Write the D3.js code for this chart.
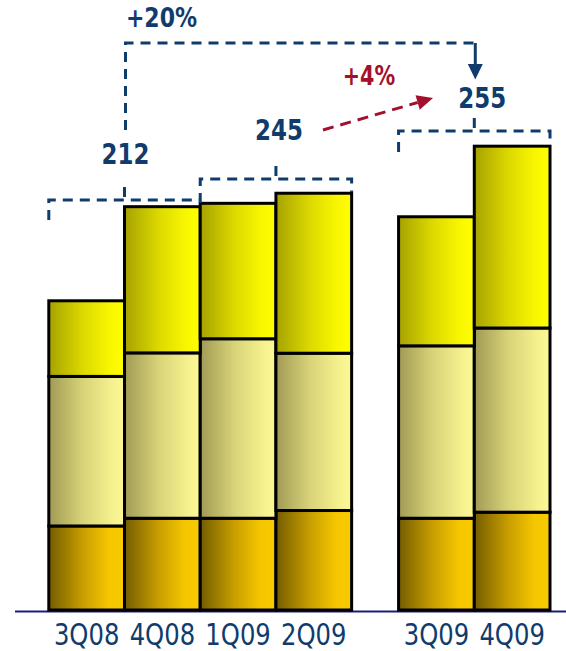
<!DOCTYPE html>
<html>
<head>
<meta charset="utf-8">
<script src="https://cdn.jsdelivr.net/npm/d3@7"></script>
<style>
  html, body { margin: 0; padding: 0; background: #fff; }
  svg { display: block; }
  text { font-family: "DejaVu Sans Condensed", "DejaVu Sans", sans-serif; font-stretch: condensed; }
</style>
</head>
<body>
<svg id="chart" width="566" height="651"></svg>
<script>
// Quarters and the three stacked components of each bar
const quarters = ["3Q08", "4Q08", "1Q09", "2Q09", "3Q09", "4Q09"];
const bottomPart = [25.0, 27.3, 27.3, 29.6, 27.3, 29.1];
const middlePart = [44.5, 49.2, 53.4, 46.8, 51.3, 54.8];
const topPart    = [22.5, 43.5, 40.3, 47.6, 38.4, 54.1];

// Half-year totals shown above each pair of bars
const halfYearLabels = ["212", "245", "255"];
const halfYearPairs = [[0, 1], [2, 3], [4, 5]];
const growthLabels = ["+20%", "+4%"];

const W = 566, H = 651;
const svg = d3.select("#chart");
const blue = "#0f3c6c";
const red = "#a3102c";

// x position: bars sit side by side, with an extra gap before the second group
const gapAfter = 3, gapSize = 0.62;
const slot = quarters.map((q, i) => i + (i > gapAfter ? gapSize : 0));
const x = d3.scaleLinear().domain([0, quarters.length + gapSize]).range([48.8, 550]);
const bw = x(1) - x(0);

const y = d3.scaleLinear().domain([0, 140]).range([610, 610 - 140 * 3.361]);

// gradients for the three components
const defs = svg.append("defs");
const gradients = [
  { id: "gBottom", stops: [["0%", "#735c00"], ["45%", "#c89e00"], ["80%", "#f6c700"], ["100%", "#f8ca00"]] },
  { id: "gMiddle", stops: [["0%", "#a09a55"], ["45%", "#d8d378"], ["85%", "#f6f28f"], ["100%", "#fbf895"]] },
  { id: "gTop",    stops: [["0%", "#a6a200"], ["45%", "#dcd900"], ["80%", "#f8f600"], ["100%", "#ffff00"]] }
];
gradients.forEach(g => {
  const lg = defs.append("linearGradient").attr("id", g.id)
    .attr("x1", "0%").attr("x2", "100%").attr("y1", "0%").attr("y2", "0%");
  g.stops.forEach(s => lg.append("stop").attr("offset", s[0]).attr("stop-color", s[1]));
});

// stacked data
const rows = quarters.map((q, i) => ({ q, i, bottom: bottomPart[i], middle: middlePart[i], top: topPart[i] }));
const keys = ["bottom", "middle", "top"];
const fills = { bottom: "url(#gBottom)", middle: "url(#gMiddle)", top: "url(#gTop)" };
const stacked = d3.stack().keys(keys)(rows);

// axis base line
svg.append("line")
  .attr("x1", 15).attr("x2", W).attr("y1", 611.5).attr("y2", 611.5)
  .attr("stroke", "#1c1c7a").attr("stroke-width", 2);

const bars = svg.append("g");
stacked.forEach(layer => {
  bars.selectAll(null).data(layer).join("rect")
    .attr("x", d => x(slot[d.data.i]))
    .attr("width", bw)
    .attr("y", d => y(d[1]))
    .attr("height", d => y(d[0]) - y(d[1]))
    .attr("fill", fills[layer.key])
    .attr("stroke", "#000")
    .attr("stroke-width", 3);
});

// quarter labels
const vScale = 1.1;
svg.append("g").selectAll("text").data(quarters).join("text")
  .attr("transform", (d, i) => `translate(${x(slot[i]) + bw / 2},644.5) scale(1,${vScale})`)
  .attr("text-anchor", "middle")
  .attr("font-size", 27)
  .attr("fill", blue)
  .text(d => d);

// annotation layer
const ann = svg.append("g").attr("fill", "none").attr("stroke", blue)
  .attr("stroke-width", 3).attr("stroke-dasharray", "10,7");

const bracketLevel = [200, 179, 131];
const leftDrop = [20, 24, 21];
const rightDrop = [0, 13, 14];
const labelBase = [164, 140, 108];
const labelShift = [1, 3, 8];

halfYearPairs.forEach((p, k) => {
  const xl = x(slot[p[0]]), xr = x(slot[p[1]]) + bw, xm = x(slot[p[1]]);
  const yl = bracketLevel[k];
  const path = d3.path();
  path.moveTo(xl, yl + leftDrop[k]);
  path.lineTo(xl, yl);
  path.lineTo(xr, yl);
  if (rightDrop[k]) path.lineTo(xr, yl + rightDrop[k]);
  ann.append("path").attr("d", path.toString());
  // centre tick
  ann.append("line").attr("x1", xm).attr("x2", xm)
    .attr("y1", yl - 3).attr("y2", yl - 18)
    .attr("stroke-dasharray", null);
  svg.append("text")
    .attr("transform", `translate(${xm + labelShift[k]},${labelBase[k]}) scale(1,1.12)`)
    .attr("text-anchor", "middle")
    .attr("font-size", 25.5).attr("font-weight", "bold")
    .attr("fill", blue)
    .text(halfYearLabels[k]);
});

// +20% connector: from the first pair up, across, and down onto the last pair
const x0 = x(slot[1]) + 1, x1 = x(slot[5]) + 1;
const topY = 43;
ann.append("path").attr("d", `M${x0},130 L${x0},${topY} L${x1},${topY}`);
svg.append("line").attr("x1", x1).attr("x2", x1).attr("y1", topY).attr("y2", 65)
  .attr("stroke", blue).attr("stroke-width", 3);
svg.append("path").attr("d", `M${x1 - 7.5},64 L${x1 + 7.5},64 L${x1},79.5 Z`).attr("fill", blue);
svg.append("text")
  .attr("transform", `translate(${x0 + 36},26.5) scale(1,1.12)`)
  .attr("text-anchor", "middle")
  .attr("font-size", 24.5).attr("font-weight", "bold")
  .attr("fill", blue)
  .text(growthLabels[0]);

// +4% arrow
const ax0 = 323, ay0 = 130, ax1 = 433, ay1 = 98;
const ang = Math.atan2(ay1 - ay0, ax1 - ax0);
const headLen = 16, headHalf = 7.5;
const bx = ax1 - headLen * Math.cos(ang), by = ay1 - headLen * Math.sin(ang);
svg.append("line").attr("x1", ax0).attr("y1", ay0).attr("x2", bx).attr("y2", by)
  .attr("stroke", red).attr("stroke-width", 3).attr("stroke-dasharray", "11,7");
svg.append("path")
  .attr("d", `M${ax1},${ay1} L${bx + headHalf * Math.sin(ang)},${by - headHalf * Math.cos(ang)} L${bx - headHalf * Math.sin(ang)},${by + headHalf * Math.cos(ang)} Z`)
  .attr("fill", red);
svg.append("text")
  .attr("transform", `translate(369,85) scale(1,1.12)`)
  .attr("text-anchor", "middle")
  .attr("font-size", 23).attr("font-weight", "bold")
  .attr("fill", red)
  .text(growthLabels[1]);
</script>
</body>
</html>
